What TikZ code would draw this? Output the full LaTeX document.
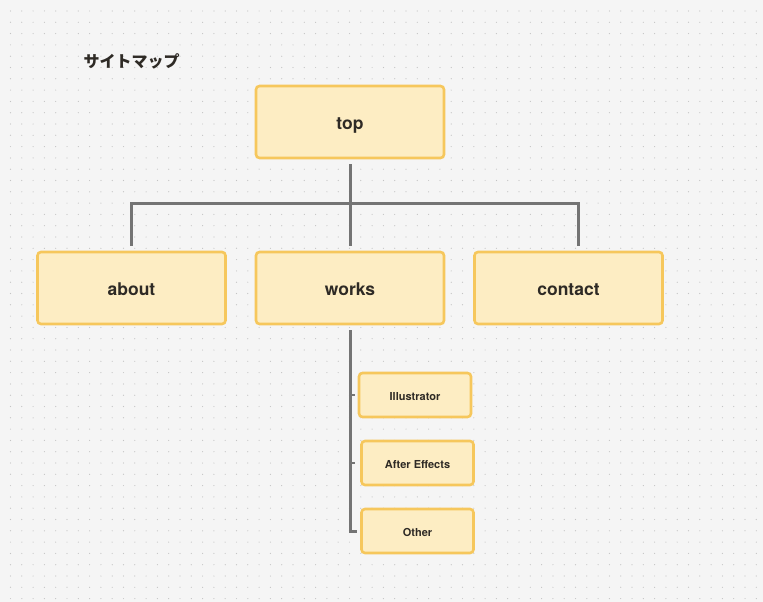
\documentclass[tikz,border=0pt]{standalone}
\usepackage{fontspec}
\setmainfont{TeX Gyre Heros}
\newfontfamily\cjk{Noto Sans CJK JP}
\usetikzlibrary{positioning}

\definecolor{paper}{HTML}{F5F5F5}
\definecolor{griddot}{HTML}{C4C4C4}
\definecolor{boxfill}{HTML}{FDEDC3}
\definecolor{boxline}{HTML}{F6C75C}
\definecolor{wire}{HTML}{747474}
\definecolor{ink}{HTML}{2E2A25}

\tikzset{
  page/.style={x=1pt,y=-1pt},
  pagebox/.style={draw=boxline,fill=boxfill,line width=2.6pt,rounded corners=3.5pt,
    text=ink,font=\bfseries\fontsize{17.5}{20}\selectfont,text height=16pt,text depth=2pt},
  bigbox/.style={pagebox,minimum width=188pt,minimum height=72pt},
  subbox/.style={pagebox,minimum width=112pt,minimum height=44pt,
    font=\bfseries\fontsize{11}{13}\selectfont,text height=11pt,text depth=1pt},
  wireline/.style={draw=wire,line width=3pt}
}

\begin{document}
\begin{tikzpicture}[page]
		% background and dot grid
		\fill[paper] (0,0) rectangle (763,602);
		\useasboundingbox (0,0) rectangle (763,602);
		\foreach \i in {0,...,66}
			\foreach \j in {0,...,52}
				\fill[griddot] (10.5+11.3*\i,11+11.3*\j) circle (0.6pt);

		% title
		\node[anchor=west,text=ink,font=\cjk\bfseries\fontsize{16}{18}\selectfont] (title) at (80,61) {サイトマップ};

		% pages
		\node[bigbox] (top) at (350,122) {top};
		\node[bigbox] (works) at (350,288) {works};
		\node[bigbox] (about) at (131.5,288) {about};
		\node[bigbox] (contact) at (568.5,288) {contact};

		\node[subbox] (illustrator) at (415,395) {Illustrator};
		\node[subbox] (aftereffects) at (417.5,463) {After Effects};
		\node[subbox] (other) at (417.5,531) {Other};

		% tree lines
		\draw[wireline,shorten <=5pt,shorten >=5pt] (top.south) -- (works.north);
		\draw[wireline,shorten >=5pt] (top.south |- 0,203) -| (about.north);
		\draw[wireline,shorten >=5pt] (top.south |- 0,203) -| ([xshift=9.5pt]contact.north);
		\draw[wireline,shorten <=5pt,shorten >=3pt] (works.south) |- (other.west);
		\draw[wireline,line width=2.5pt,shorten >=3pt] (works.south |- illustrator.west) -- (illustrator.west);
		\draw[wireline,line width=2.5pt,shorten >=5pt] (works.south |- aftereffects.west) -- (aftereffects.west);

\end{tikzpicture}
\end{document}
